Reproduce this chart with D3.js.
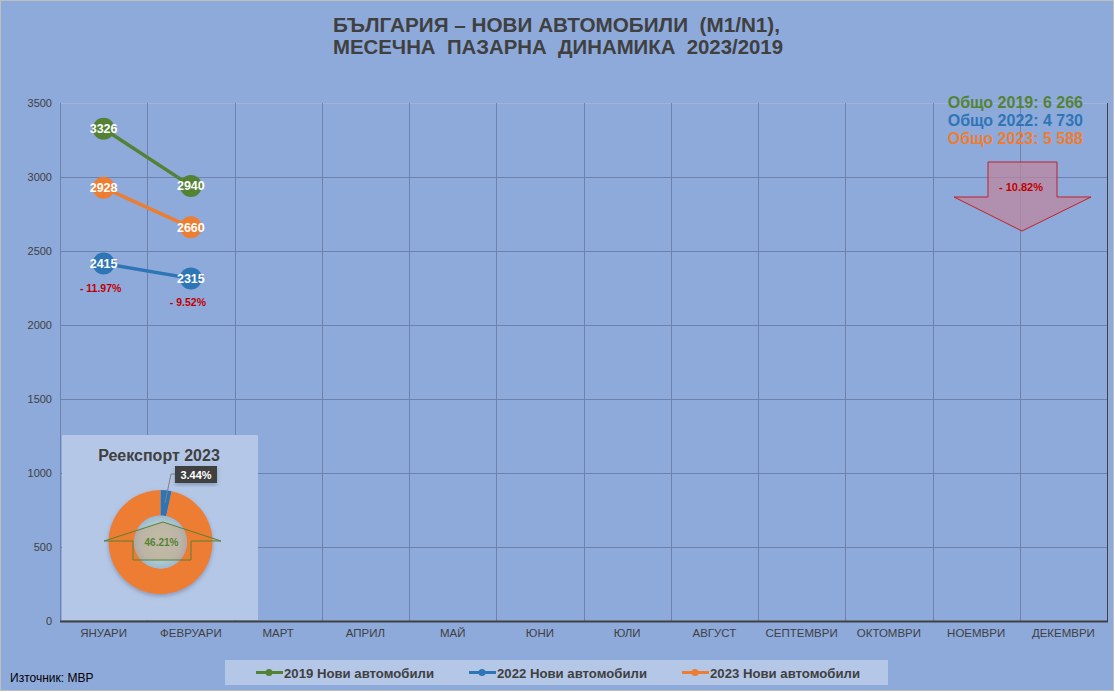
<!DOCTYPE html>
<html>
<head>
<meta charset="utf-8">
<script src="https://cdn.jsdelivr.net/npm/d3@7"></script>
<style>
  body { margin: 0; background: #fff; }
  svg { display: block; }
</style>
</head>
<body>
<script>
const months = ["ЯНУАРИ", "ФЕВРУАРИ", "МАРТ", "АПРИЛ", "МАЙ", "ЮНИ", "ЮЛИ", "АВГУСТ", "СЕПТЕМВРИ", "ОКТОМВРИ", "НОЕМВРИ", "ДЕКЕМВРИ"];
const seriesNames = ["2019 Нови автомобили", "2022 Нови автомобили", "2023 Нови автомобили"];
const values2019 = [3326, 2940];
const values2022 = [2415, 2315];
const values2023 = [2928, 2660];
const changeLabels = ["- 11.97%", "- 9.52%"];
const totals = ["Общо 2019: 6 266", "Общо 2022: 4 730", "Общо 2023: 5 588"];
const totalChange = "- 10.82%";
const yTicks = [0, 500, 1000, 1500, 2000, 2500, 3000, 3500];
const reexportShare = [3.44, 96.56];
const reexportInner = "46.21%";

const colors = ["#548235", "#2e75b6", "#ed7d31"];
const narrow = "'Liberation Sans Narrow', 'Arial Narrow', 'Liberation Sans', sans-serif";
const sans = "'Liberation Sans', Arial, sans-serif";

const W = 1115, H = 692;
const margin = { top: 103, right: 8, bottom: 71, left: 60 };

const svg = d3.select("body").append("svg")
    .attr("width", W)
    .attr("height", H);

svg.append("rect")
    .attr("x", 0.5).attr("y", 0.5)
    .attr("width", W - 2).attr("height", H - 2)
    .style("fill", "#8eaadb")
    .style("stroke", "#bfbfbf");

const x = d3.scaleBand()
    .domain(months)
    .range([margin.left, W - margin.right]);

const y = d3.scaleLinear()
    .domain([0, 3500])
    .range([H - margin.bottom, margin.top]);

// title
[["БЪЛГАРИЯ – НОВИ АВТОМОБИЛИ  (M1/N1),", 32, 447], ["МЕСЕЧНА  ПАЗАРНА  ДИНАМИКА  2023/2019", 54, 450]].forEach(t => {
    svg.append("text")
        .attr("x", 333).attr("y", t[1])
        .attr("textLength", t[2])
        .attr("lengthAdjust", "spacingAndGlyphs")
        .style("font-family", narrow).style("font-weight", "bold")
        .style("font-size", "21px").style("fill", "#404040")
        .style("white-space", "pre")
        .text(t[0]);
});

// gridlines
svg.append("g")
    .selectAll("line")
    .data(yTicks.slice(1))
    .enter().append("line")
    .attr("x1", margin.left).attr("x2", W - margin.right)
    .attr("y1", d => Math.round(y(d)) + 0.5).attr("y2", d => Math.round(y(d)) + 0.5)
    .style("stroke", d => d === 3500 ? "#9fb3dc" : "#6d82ad")
    .style("stroke-width", 1);

svg.append("g")
    .selectAll("line")
    .data(months.slice(1))
    .enter().append("line")
    .attr("x1", d => Math.round(x(d)) + 0.5).attr("x2", d => Math.round(x(d)) + 0.5)
    .attr("y1", margin.top).attr("y2", y(0))
    .style("stroke", "#6d82ad");

// axes frame
svg.append("line")
    .attr("x1", margin.left + 0.5).attr("x2", margin.left + 0.5)
    .attr("y1", margin.top).attr("y2", y(0))
    .style("stroke", "#6d82ad");
svg.append("line")
    .attr("x1", W - margin.right + 0.5).attr("x2", W - margin.right + 0.5)
    .attr("y1", margin.top).attr("y2", y(0))
    .style("stroke", "#404040");

// y axis
const yAxis = svg.append("g")
    .attr("transform", `translate(${margin.left - 8},0)`)
    .call(d3.axisLeft(y).tickValues(yTicks).tickFormat(d3.format("d")).tickSize(0).tickPadding(0));
yAxis.select(".domain").remove();
yAxis.selectAll("text")
    .style("font-family", sans).style("font-size", "11px").style("fill", "#404040");

// x axis
const xAxis = svg.append("g")
    .attr("transform", `translate(0,${y(0)})`)
    .call(d3.axisBottom(x).tickSize(0).tickPadding(8));
xAxis.select(".domain").remove();
xAxis.selectAll("text")
    .style("font-family", narrow).style("font-size", "11.5px").style("fill", "#404040");
svg.append("line")
    .attr("x1", margin.left).attr("x2", W - margin.right + 1)
    .attr("y1", y(0) + 0.5).attr("y2", y(0) + 0.5)
    .style("stroke", "#404040").style("stroke-width", 2);

// reexport inset
const inset = svg.append("g");
inset.append("rect")
    .attr("x", 62).attr("y", 435).attr("width", 196).attr("height", 185)
    .style("fill", "#b4c7e7");
inset.append("text")
    .attr("x", 159).attr("y", 461)
    .attr("text-anchor", "middle")
    .style("font-family", sans).style("font-weight", "bold")
    .style("font-size", "16px").style("fill", "#404040")
    .text("Реекспорт 2023");

const defs = svg.append("defs");
const glow = defs.append("radialGradient").attr("id", "innerGlow");
glow.append("stop").attr("offset", "0%").style("stop-color", "#b5d0cf");
glow.append("stop").attr("offset", "75%").style("stop-color", "#adc9cc");
glow.append("stop").attr("offset", "100%").style("stop-color", "#9db8d2");
const shadow = defs.append("filter").attr("id", "softShadow")
    .attr("x", "-20%").attr("y", "-20%").attr("width", "140%").attr("height", "140%");
shadow.append("feDropShadow").attr("dx", 0).attr("dy", 2).attr("stdDeviation", 2)
    .attr("flood-color", "#5a6a8a").attr("flood-opacity", 0.5);

const cx = 160.5, cy = 542;
const pie = d3.pie().sort(null).value(d => d);
const arc = d3.arc().innerRadius(26.5).outerRadius(52);
inset.append("g")
    .attr("transform", `translate(${cx},${cy})`)
    .style("filter", "url(#softShadow)")
    .selectAll("path")
    .data(pie(reexportShare))
    .enter().append("path")
    .attr("d", arc)
    .style("fill", (d, i) => i === 0 ? "#2e75b6" : "#ed7d31");
inset.append("circle")
    .attr("cx", cx).attr("cy", cy).attr("r", 26.5)
    .style("fill", "url(#innerGlow)");

// green up arrow around inner label
inset.append("path")
    .attr("d", "M104,541 L163,522 L221,541 L191,541 L191,560 L133,560 L133,541 Z")
    .style("fill", "#ed7d31").style("fill-opacity", 0.25)
    .style("stroke", "#548235").style("stroke-width", 1);
inset.append("text")
    .attr("x", cx + 1).attr("y", cy + 4)
    .attr("text-anchor", "middle")
    .style("font-family", sans).style("font-weight", "bold")
    .style("font-size", "10px").style("fill", "#548235")
    .text(reexportInner);

// callout for 3.44%
inset.append("path")
    .attr("d", "M165,503 L171,474 L176,474")
    .style("fill", "none").style("stroke", "#7f7f7f");
inset.append("rect")
    .attr("x", 175).attr("y", 466).attr("width", 42).attr("height", 17)
    .style("fill", "#404040")
    .style("filter", "url(#softShadow)");
inset.append("text")
    .attr("x", 196).attr("y", 479)
    .attr("text-anchor", "middle")
    .style("font-family", sans).style("font-weight", "bold")
    .style("font-size", "11px").style("fill", "#fff")
    .text(reexportShare[0].toFixed(2) + "%");

// lines and markers
const allSeries = [values2019, values2022, values2023];
const line = d3.line()
    .x((d, i) => x(months[i]) + x.bandwidth() / 2)
    .y(d => y(d));

allSeries.forEach((vals, s) => {
    svg.append("path")
        .datum(vals)
        .attr("d", line)
        .style("fill", "none")
        .style("stroke", colors[s])
        .style("stroke-width", 3.5);
});
allSeries.forEach((vals, s) => {
    const g = svg.append("g");
    g.selectAll("circle")
        .data(vals)
        .enter().append("circle")
        .attr("cx", (d, i) => x(months[i]) + x.bandwidth() / 2)
        .attr("cy", d => y(d))
        .attr("r", 11)
        .style("fill", colors[s]);
    g.selectAll("text")
        .data(vals)
        .enter().append("text")
        .attr("x", (d, i) => x(months[i]) + x.bandwidth() / 2)
        .attr("y", d => y(d) + 4.5)
        .attr("text-anchor", "middle")
        .style("font-family", sans).style("font-weight", "bold")
        .style("font-size", "12.5px").style("fill", "#fff")
        .text(d => d);
});

// change labels under 2022 markers
svg.append("g")
    .selectAll("text")
    .data(changeLabels)
    .enter().append("text")
    .attr("x", (d, i) => x(months[i]) + x.bandwidth() / 2 - 3)
    .attr("y", (d, i) => y(values2022[i]) + 28)
    .attr("text-anchor", "middle")
    .style("font-family", sans).style("font-weight", "bold")
    .style("font-size", "10.5px").style("fill", "#c00000")
    .text(d => d);

// totals
svg.append("g")
    .selectAll("text")
    .data(totals)
    .enter().append("text")
    .attr("x", 1083).attr("y", (d, i) => 108 + i * 18)
    .attr("text-anchor", "end")
    .style("font-family", sans).style("font-weight", "bold")
    .style("font-size", "16px")
    .style("fill", (d, i) => colors[i])
    .text(d => d);

// big down arrow
svg.append("path")
    .attr("d", "M988,162 L1057,162 L1057,197 L1091,197 L1022,231 L954,197 L988,197 Z")
    .style("fill", "#c0849c").style("fill-opacity", 0.7)
    .style("stroke", "#c0202a").style("stroke-width", 1);
svg.append("text")
    .attr("x", 1021).attr("y", 191)
    .attr("text-anchor", "middle")
    .style("font-family", sans).style("font-weight", "bold")
    .style("font-size", "11px").style("fill", "#c00000")
    .text(totalChange);

// legend
const legend = svg.append("g");
legend.append("rect")
    .attr("x", 225).attr("y", 660).attr("width", 663).attr("height", 25)
    .style("fill", "#b4c7e7");
const legendX = [256, 469, 682];
seriesNames.forEach((name, i) => {
    legend.append("line")
        .attr("x1", legendX[i]).attr("x2", legendX[i] + 27)
        .attr("y1", 672.5).attr("y2", 672.5)
        .style("stroke", colors[i]).style("stroke-width", 3);
    legend.append("circle")
        .attr("cx", legendX[i] + 13).attr("cy", 672.5).attr("r", 3.5)
        .style("fill", colors[i]);
    legend.append("text")
        .attr("x", legendX[i] + 28).attr("y", 677.5)
        .attr("textLength", 150)
        .attr("lengthAdjust", "spacingAndGlyphs")
        .style("font-family", sans).style("font-weight", "bold")
        .style("font-size", "13px").style("fill", "#404040")
        .text(name);
});

svg.append("text")
    .attr("x", 10).attr("y", 682)
    .style("font-family", narrow)
    .style("font-size", "12px").style("fill", "#000")
    .text("Източник: МВР");
</script>
</body>
</html>
